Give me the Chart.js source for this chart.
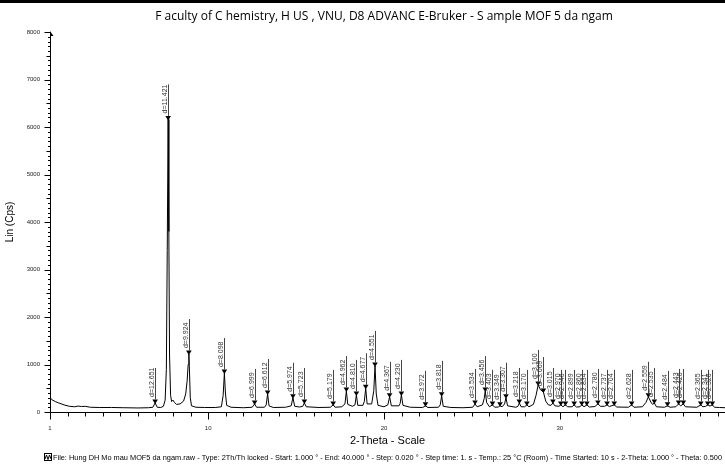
<!DOCTYPE html>
<html>
<head>
<meta charset="utf-8">
<script src="https://cdn.jsdelivr.net/npm/chart.js@4/dist/chart.umd.min.js"></script>
<style>
  html, body { margin: 0; padding: 0; background: #fff; }
  #wrap { width: 725px; height: 464px; }
</style>
</head>
<body>
<div id="wrap"><canvas id="chart1" width="725" height="464"></canvas></div>
<script>
// chart texts
const chartTitle = 'F aculty of C hemistry, H US , VNU, D8 ADVANC E-Bruker - S ample MOF 5 da ngam';
const xTitle = '2-Theta - Scale';
const yTitle = 'Lin (Cps)';
const footNote = 'File: Hung DH Mo mau MOF5 da ngam.raw - Type: 2Th/Th locked - Start: 1.000 \u00b0 - End: 40.000 \u00b0 - Step: 0.020 \u00b0 - Step time: 1. s - Temp.: 25 \u00b0C (Room) - Time Started: 10 s - 2-Theta: 1.000 \u00b0 - Theta: 0.500';

// axis ticks
const xLabelled = [1, 10, 20, 30];
const xMin = 1, xMax = 39.4;
const yMax = 8000;

const profile = [
  [1.00, 560], [1.02, 300], [1.1, 260], [1.3, 220], [1.5, 190], [1.8, 150], [2.1, 120],
  [2.4, 110], [2.6, 125], [2.8, 115], [3.0, 120], [3.3, 100], [3.8, 95], [4.5, 95],
  [5.2, 90], [6.0, 85], [6.6, 90], [6.85, 100], [6.98, 190], [7.1, 100], [7.3, 95],
  [7.45, 120], [7.55, 250], [7.62, 900], [7.67, 3400], [7.72, 6160], [7.76, 3800],
  [7.80, 1200], [7.86, 350], [7.92, 220], [8.0, 250], [8.08, 200], [8.2, 160],
  [8.4, 170], [8.6, 230], [8.72, 380], [8.80, 650], [8.86, 1000], [8.90, 1220],
  [8.94, 800], [8.98, 300], [9.05, 130], [9.3, 100], [9.8, 95], [10.4, 95],
  [10.75, 110], [10.85, 350], [10.92, 820], [10.98, 400], [11.05, 140], [11.3, 100],
  [12.0, 90], [12.5, 100], [12.64, 170], [12.75, 100], [13.2, 100], [13.3, 150],
  [13.38, 380], [13.46, 130], [13.7, 95], [14.4, 100], [14.72, 130], [14.82, 300],
  [14.92, 120], [15.2, 105], [15.38, 120], [15.47, 190], [15.58, 110], [16.3, 95],
  [16.95, 100], [17.11, 150], [17.22, 100], [17.6, 110], [17.78, 170], [17.86, 440],
  [17.94, 160], [18.2, 120], [18.35, 150], [18.43, 360], [18.51, 140], [18.8, 140],
  [18.88, 220], [18.96, 500], [19.04, 170], [19.3, 170], [19.42, 450], [19.49, 970],
  [19.56, 380], [19.66, 140], [20.0, 110], [20.22, 150], [20.32, 320], [20.42, 130],
  [20.85, 130], [20.92, 180], [20.99, 360], [21.08, 140], [21.5, 100], [22.2, 95],
  [22.36, 130], [22.5, 95], [23.1, 100], [23.2, 150], [23.28, 340], [23.37, 120],
  [23.8, 95], [24.5, 90], [25.05, 100], [25.18, 170], [25.3, 110], [25.6, 150],
  [25.7, 280], [25.76, 440], [25.84, 200], [26.0, 110], [26.17, 150], [26.3, 100],
  [26.5, 105], [26.6, 130], [26.72, 110], [26.86, 170], [26.94, 300], [27.03, 130],
  [27.5, 100], [27.62, 120], [27.7, 190], [27.8, 110], [28.0, 110], [28.13, 150],
  [28.25, 110], [28.5, 160], [28.65, 350], [28.77, 570], [28.9, 470], [29.07, 420],
  [29.2, 230], [29.35, 150], [29.5, 140], [29.61, 190], [29.72, 130], [29.95, 120],
  [30.06, 150], [30.18, 110], [30.32, 150], [30.45, 110], [30.7, 110], [30.82, 150],
  [30.95, 105], [31.15, 110], [31.25, 150], [31.38, 110], [31.54, 150], [31.68, 105],
  [32.0, 115], [32.17, 170], [32.32, 120], [32.55, 120], [32.69, 150], [32.82, 115],
  [33.10, 150], [33.24, 105], [33.9, 100], [34.09, 150], [34.22, 100], [34.7, 110],
  [34.9, 200], [35.04, 320], [35.18, 210], [35.28, 160], [35.38, 190], [35.5, 110],
  [35.95, 100], [36.13, 130], [36.28, 100], [36.6, 110], [36.76, 170], [36.88, 130],
  [37.03, 170], [37.15, 110], [37.8, 100], [38.02, 150], [38.14, 110], [38.3, 120],
  [38.42, 150], [38.55, 125], [38.68, 150], [38.8, 100], [39.1, 95], [39.4, 90]
];

// peak markers
const peakTheta = [6.98, 7.72, 8.90, 10.92, 12.64, 13.38, 14.82, 15.47, 17.11, 17.86,
  18.43, 18.96, 19.49, 20.32, 20.99, 22.36, 23.28, 25.18, 25.76, 26.17, 26.60, 26.94,
  27.70, 28.13, 28.77, 29.07, 29.61, 30.06, 30.32, 30.82, 31.25, 31.54, 32.17, 32.69,
  33.10, 34.09, 35.04, 35.38, 36.13, 36.76, 37.03, 38.02, 38.42, 38.68];
const peakCps = [190, 6160, 1220, 820, 170, 380, 300, 190, 150, 440,
  360, 500, 970, 320, 360, 130, 340, 170, 440, 150, 130, 300,
  190, 150, 570, 420, 190, 150, 150, 150, 150, 150, 170, 150,
  150, 150, 320, 190, 130, 170, 170, 150, 150, 150];
const peakD = ['12.651', '11.421', '9.924', '8.098', '6.999', '6.612', '5.974', '5.723', '5.179', '4.962',
  '4.810', '4.677', '4.551', '4.367', '4.230', '3.972', '3.818', '3.534', '3.456', '3.403', '3.349', '3.307',
  '3.218', '3.170', '3.100', '3.069', '3.015', '2.970', '2.946', '2.899', '2.860', '2.834', '2.780', '2.737',
  '2.704', '2.628', '2.559', '2.535', '2.484', '2.443', '2.426', '2.365', '2.341', '2.326'];

const xrdDecor = {
    id: 'xrdDecor',
    afterDraw(chart) {
        const ctx = chart.ctx;
        const xs = chart.scales.x, ys = chart.scales.y;
        const area = chart.chartArea;
        const x0 = Math.round(area.left) + 0.5;
        const y0 = Math.round(area.bottom) + 0.5;
        ctx.save();

        // top bar
        ctx.fillStyle = '#000';
        ctx.fillRect(0, 0, chart.width, 3);

        // axes
        ctx.strokeStyle = '#000';
        ctx.lineWidth = 1;
        ctx.beginPath();
        ctx.moveTo(x0, y0);
        ctx.lineTo(x0, area.top);
        ctx.moveTo(x0, y0);
        ctx.lineTo(area.right, y0);
        ctx.stroke();

        // arrow head on the y axis
        ctx.beginPath();
        ctx.moveTo(x0 - 0.5, area.top - 1);
        ctx.lineTo(x0 + 3, area.top + 4);
        ctx.lineTo(x0 - 0.5, area.top + 4);
        ctx.closePath();
        ctx.fill();

        // ticks
        ctx.beginPath();
        xs.ticks.forEach(t => {
            const px = Math.round(xs.getPixelForValue(t.value)) + 0.5;
            const len = (t.value % 10 === 0 || t.value === 1) ? 7 : 4;
            ctx.moveTo(px, y0);
            ctx.lineTo(px, y0 + len);
        });
        ys.ticks.forEach(t => {
            const py = Math.round(ys.getPixelForValue(t.value)) + 0.5;
            const len = t.value % 1000 === 0 ? 6 : (t.value % 500 === 0 ? 4 : 2.5);
            ctx.moveTo(x0, py);
            ctx.lineTo(x0 - len, py);
        });
        ctx.stroke();

        // peak markers
        ctx.font = '7px "Liberation Sans"';
        for (let i = 0; i < peakTheta.length; i++) {
            const px = xs.getPixelForValue(peakTheta[i]);
            const py = ys.getPixelForValue(peakCps[i]);
            ctx.fillStyle = '#000';
            ctx.beginPath();
            ctx.moveTo(px - 2.8, py - 3.5);
            ctx.lineTo(px + 2.8, py - 3.5);
            ctx.lineTo(px, py + 1);
            ctx.closePath();
            ctx.fill();

            const lx = Math.round(px) + 0.5;
            ctx.strokeStyle = '#444';
            ctx.beginPath();
            ctx.moveTo(lx, py - 3.5);
            ctx.lineTo(lx, py - 35);
            ctx.stroke();

            ctx.save();
            ctx.translate(lx - 1.5, py - 6);
            ctx.rotate(-Math.PI / 2);
            ctx.fillStyle = '#333';
            ctx.textAlign = 'left';
            ctx.textBaseline = 'alphabetic';
            ctx.fillText('d=' + peakD[i], 0, 0);
            ctx.restore();
        }

        // titles
        ctx.fillStyle = '#000';
        ctx.textAlign = 'center';
        ctx.textBaseline = 'middle';
        ctx.font = '12px "Open Sans"';
        ctx.fillText(chartTitle, 384, 17);

        ctx.font = '11px "Liberation Sans"';
        ctx.fillText(xTitle, (area.left + area.right) / 2, 441);

        ctx.save();
        ctx.translate(10, 222);
        ctx.rotate(-Math.PI / 2);
        ctx.font = '10px "Liberation Sans"';
        ctx.fillText(yTitle, 0, 0);
        ctx.restore();

        // file note with its small icon
        ctx.strokeStyle = '#000';
        ctx.strokeRect(44.5, 453.5, 7, 7);
        ctx.beginPath();
        ctx.moveTo(45, 459);
        ctx.lineTo(46.5, 455);
        ctx.lineTo(48, 459.5);
        ctx.lineTo(49.5, 455);
        ctx.lineTo(51, 459);
        ctx.stroke();
        ctx.textAlign = 'left';
        ctx.font = '7.4px "Liberation Sans"';
        ctx.fillText(footNote, 53, 457.5, 669);

        ctx.restore();
    }
};

const ctx = document.getElementById('chart1');
new Chart(ctx, {
    type: 'line',
    data: {
        datasets: [{
            label: 'MOF5',
            data: profile.map(p => ({x: p[0], y: p[1]})),
            borderColor: '#000',
            borderWidth: 1,
            pointRadius: 0,
            fill: false,
            tension: 0
        }]
    },
    options: {
        responsive: false,
        animation: false,
        devicePixelRatio: 1,
        layout: { padding: { top: 32, left: 0, right: 0, bottom: 0 } },
        plugins: {
            legend: { display: false },
            title: { display: false },
            tooltip: { enabled: false }
        },
        scales: {
            x: {
                type: 'linear',
                min: xMin,
                max: xMax,
                afterFit(s) { s.height = 52; },
                border: { display: false },
                grid: { drawOnChartArea: false, tickLength: 9, tickColor: 'rgba(0,0,0,0)' },
                ticks: {
                    stepSize: 1,
                    autoSkip: false,
                    includeBounds: false,
                    maxRotation: 0,
                    padding: 4,
                    color: '#222',
                    font: { family: 'Liberation Sans', size: 6 },
                    callback: v => xLabelled.includes(v) ? String(v) : ''
                }
            },
            y: {
                min: 0,
                max: yMax,
                afterFit(s) { s.width = 50; },
                border: { display: false },
                grid: { drawOnChartArea: false, tickLength: 6, tickColor: 'rgba(0,0,0,0)' },
                ticks: {
                    stepSize: 100,
                    autoSkip: false,
                    padding: 4,
                    color: '#222',
                    font: { family: 'Liberation Sans', size: 6 },
                    callback: v => v % 1000 === 0 ? String(v) : ''
                }
            }
        }
    },
    plugins: [xrdDecor]
});
</script>
</body>
</html>
